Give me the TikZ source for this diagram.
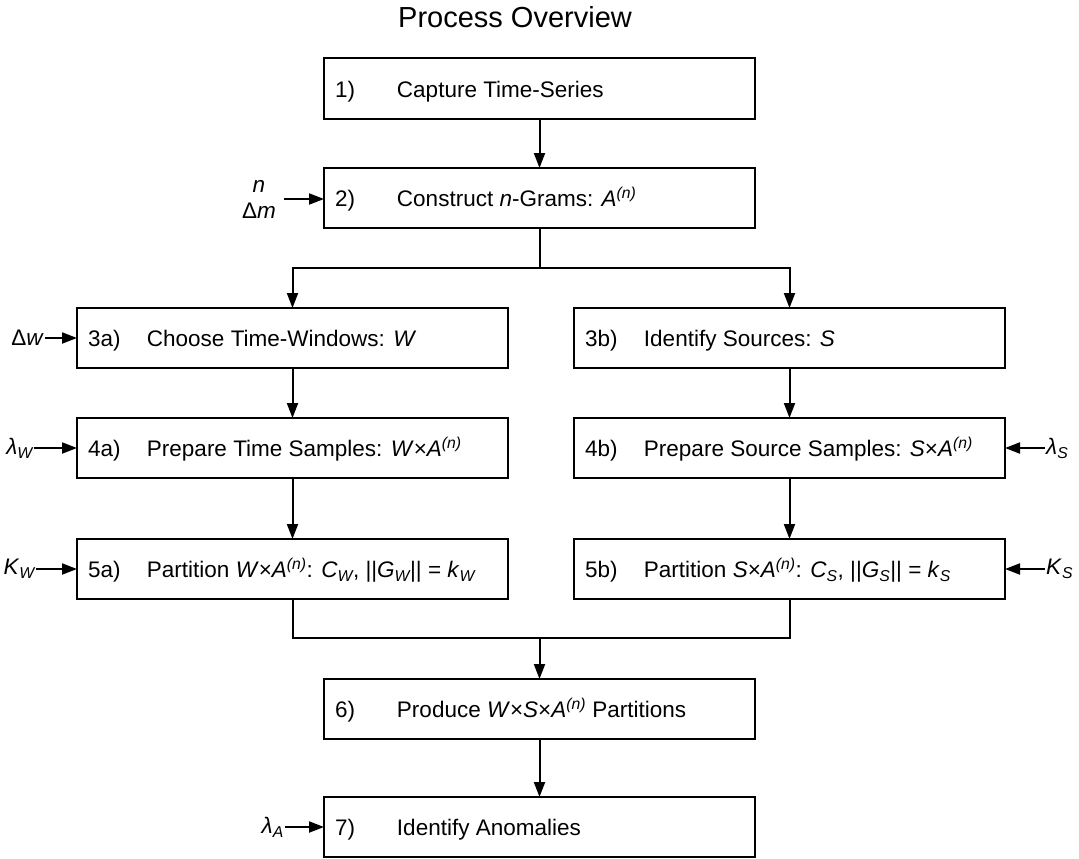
\documentclass[tikz,border=0pt]{standalone}
\usepackage{fontspec}
\setmainfont{Liberation Sans}
\usetikzlibrary{arrows.meta}
\newcommand\supn{\textsuperscript{\itshape (n)}}
\newcommand\sbs[1]{\textsubscript{\itshape #1}}
\newcommand\bx[3][59pt]{\makebox[431pt][l]{\hspace*{11pt}\makebox[#1][l]{#2}#3}}
\begin{document}
\begin{tikzpicture}[x=1pt,y=-1pt,
  box/.style={draw, line width=2pt, minimum width=431pt, minimum height=60pt,
    inner sep=0pt, outer sep=0pt, text height=17pt, text depth=0pt,
    font=\fontsize{22.5}{26}\selectfont},
  arr/.style={line width=2pt, -{Triangle[length=15pt,width=11pt]}},
  conn/.style={line width=2pt},
  inlab/.style={inner sep=1pt, font=\fontsize{22.5}{26}\selectfont},
  titlestyle/.style={inner sep=0pt, font=\fontsize{29}{32}\selectfont}
]
\useasboundingbox (0,0) rectangle (1079,859);

\node[titlestyle, anchor=base west] (title) at (398,28) {Process Overview};

\node[box] (b1) at (539.5,88.5) {\bx[62pt]{1)}{Capture Time-Series}};
\node[box] (b2) at (539.5,198) {\bx[62pt]{2)}{Construct \textit{n}-Grams: \textit{A}\supn}};
\node[box] (b3a) at (292.5,338) {\bx{3a)}{Choose Time-Windows: \textit{W}}};
\node[box] (b3b) at (789.5,338) {\bx{3b)}{Identify Sources: \textit{S}}};
\node[box] (b4a) at (292.5,448) {\bx{4a)}{Prepare Time Samples: \textit{W}×\textit{A}\supn}};
\node[box] (b4b) at (789.5,448) {\bx{4b)}{Prepare Source Samples: \textit{S}×\textit{A}\supn}};
\node[box] (b5a) at (292.5,569) {\bx{5a)}{Partition \textit{W}×\textit{A}\supn: \textit{C}\sbs{W}, ||\textit{G}\sbs{W}|| = \textit{k}\sbs{W}}};
\node[box] (b5b) at (789.5,569) {\bx{5b)}{Partition \textit{S}×\textit{A}\supn: \textit{C}\sbs{S}, ||\textit{G}\sbs{S}|| = \textit{k}\sbs{S}}};
\node[box] (b6) at (539.5,709) {\bx[62pt]{6)}{Produce \textit{W}×\textit{S}×\textit{A}\supn{} Partitions}};
\node[box] (b7) at (539.5,827) {\bx[62pt]{7)}{Identify Anomalies}};

\coordinate (split) at (539.5,268);
\coordinate (merge) at (539.5,638);

\draw[arr] (b1.south) -- (b2.north);
\draw[conn] (b2.south) -- (split);
\draw[arr] (split) -| (b3a.north);
\draw[arr] (split) -| (b3b.north);
\draw[arr] (b3a.south) -- (b4a.north);
\draw[arr] (b3b.south) -- (b4b.north);
\draw[arr] (b4a.south) -- (b5a.north);
\draw[arr] (b4b.south) -- (b5b.north);
\draw[conn] (b5a.south) |- (merge);
\draw[conn] (b5b.south) |- (merge);
\draw[arr] (merge) -- (b6.north);
\draw[arr] (b6.south) -- (b7.north);

% inputs
\node[inlab, inner xsep=8pt, anchor=east, align=center] (in2) at (284,199) {\textit{n}\\ Δ\textit{m}};
\draw[arr] (in2.east) -- (in2.east -| b2.west);
\node[inlab, anchor=east] (in3a) at (45,338) {Δ\textit{w}};
\draw[arr] (in3a.east) -- (in3a.east -| b3a.west);
\node[inlab, anchor=east] (in4a) at (34,448) {\textit{λ}\sbs{W}};
\draw[arr] (in4a.east) -- (in4a.east -| b4a.west);
\node[inlab, anchor=east] (in5a) at (36,569) {\textit{K}\sbs{W}};
\draw[arr] (in5a.east) -- (in5a.east -| b5a.west);
\node[inlab, anchor=east] (in7) at (285,827) {\textit{λ}\sbs{A}};
\draw[arr] (in7.east) -- (in7.east -| b7.west);
\node[inlab, anchor=west] (in4b) at (1045,448) {\textit{λ}\sbs{S}};
\draw[arr] (in4b.west) -- (in4b.west -| b4b.east);
\node[inlab, anchor=west] (in5b) at (1045,569) {\textit{K}\sbs{S}};
\draw[arr] (in5b.west) -- (in5b.west -| b5b.east);
\end{tikzpicture}
\end{document}
